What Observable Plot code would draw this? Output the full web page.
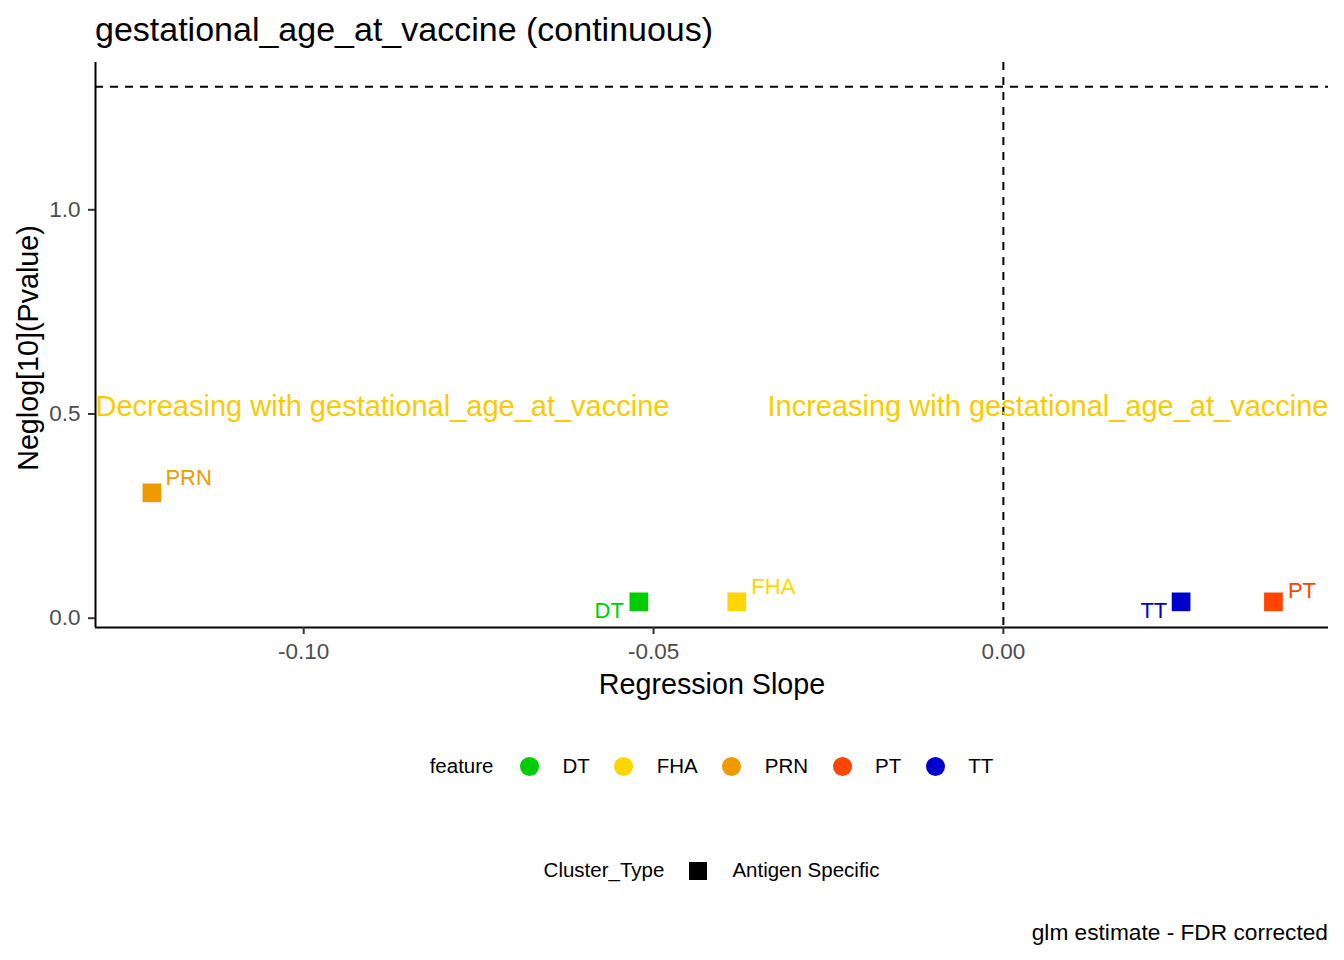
<!DOCTYPE html>
<html>
<head>
<meta charset="utf-8">
<script src="https://cdn.jsdelivr.net/npm/d3@7"></script>
<script src="https://cdn.jsdelivr.net/npm/@observablehq/plot@0.6"></script>
<style>
  html, body { margin: 0; padding: 0; background: #ffffff; }
  body { font-family: "Liberation Sans", Arial, sans-serif; }
  #wrap { position: relative; width: 1344px; height: 960px; overflow: hidden; background: #fff; }
  #chart { position: absolute; left: 0; top: 0; }
  .title { position: absolute; left: 95px; top: 12px; font-size: 34px; line-height: 34px; color: #000; white-space: nowrap; }
  .legend-row { position: absolute; left: 95px; width: 1233px; display: flex; justify-content: center; align-items: center; height: 24px; font-size: 20.5px; line-height: 20.5px; color: #000; white-space: nowrap; }
  .lg-title { margin-right: 26.5px; }
  .lg-key-c { width: 19px; height: 19px; border-radius: 50%; margin-right: 23.5px; }
  .lg-key-s { width: 18px; height: 18px; background: #000; margin-right: 25px; }
  .lg-text { margin-right: 24.5px; }
  .lg-text:last-child { margin-right: 0; }
  .caption { position: absolute; right: 16px; top: 921px; font-size: 22.7px; line-height: 22.7px; color: #000; white-space: nowrap; }
</style>
</head>
<body>
<div id="wrap">
  <div id="chart"></div>
</div>
<script>
// ---- data ----
const features = ["DT", "FHA", "PRN", "PT", "TT"];
const slopes = [-0.0521, -0.0381, -0.1217, 0.0386, 0.0254];
const negLogP = [0.040, 0.040, 0.307, 0.040, 0.040];
const clusterTypes = ["Antigen Specific", "Antigen Specific", "Antigen Specific", "Antigen Specific", "Antigen Specific"];
const featureColors = ["#00CD00", "#FFD700", "#EE9A00", "#FF4500", "#0000CD"];
const clusterTypeLevels = ["Antigen Specific"];
const xTicks = [-0.10, -0.05, 0.00];
const yTicks = [0.0, 0.5, 1.0];
const xDomain = [-0.12976, 0.04647];
const yDomain = [-0.0228, 1.3607];
const pThresholdLine = [1.30103]; // -log10(0.05)
const zeroSlopeLine = [0];
const annotationY = 0.5;
const decreasingText = "Decreasing with gestational_age_at_vaccine";
const increasingText = "Increasing with gestational_age_at_vaccine";
const titleText = "gestational_age_at_vaccine (continuous)";
const xLabelText = "Regression Slope";
const yLabelText = "Neglog[10](Pvalue)";
const captionText = "glm estimate - FDR corrected";
const colorLegendTitle = "feature";
const shapeLegendTitle = "Cluster_Type";

const data = features.map((f, i) => ({
  feature: f, slope: slopes[i], nlp: negLogP[i], cluster: clusterTypes[i]
}));

// ---- label placement (repel-like offsets) ----
const labelPlacement = {
  DT:  {anchor: "end",   dx: -15,   dy: 15.8},
  FHA: {anchor: "start", dx: 14.5,  dy: -8.2},
  PRN: {anchor: "start", dx: 13.5,  dy: -7.5},
  PT:  {anchor: "start", dx: 14.5,  dy: -3.6},
  TT:  {anchor: "end",   dx: -13.8, dy: 16}
};

const annoColor = "#F9CB00";
const fontFamily = "Liberation Sans, Arial, sans-serif";

const plot = Plot.plot({
  width: 1344,
  height: 710,
  marginLeft: 95,
  marginRight: 16,
  marginTop: 62,
  marginBottom: 83,
  style: {fontFamily: fontFamily, background: "#ffffff", overflow: "visible"},
  x: {domain: xDomain},
  y: {domain: yDomain},
  color: {domain: features, range: featureColors},
  marks: [
    // axis lines (theme_classic)
    Plot.ruleX([xDomain[0]], {stroke: "#000", strokeWidth: 2}),
    Plot.ruleY([yDomain[0]], {stroke: "#000", strokeWidth: 2}),
    // reference lines
    Plot.ruleY(pThresholdLine, {stroke: "#000", strokeWidth: 2, strokeDasharray: "8,7"}),
    Plot.ruleX(zeroSlopeLine, {stroke: "#000", strokeWidth: 2, strokeDasharray: "8,7"}),
    // axes
    Plot.axisX(xTicks, {
      tickSize: 7, tickPadding: 9, strokeWidth: 2, stroke: "#333333", fill: "#4D4D4D",
      fontSize: 22.5, tickFormat: d => d.toFixed(2), label: null
    }),
    Plot.axisY(yTicks, {
      tickSize: 7, tickPadding: 8, strokeWidth: 2, stroke: "#333333", fill: "#4D4D4D",
      fontSize: 22.5, tickFormat: d => d.toFixed(1), label: null
    }),
    // axis titles
    Plot.text([xLabelText], {
      frameAnchor: "bottom", dy: 66.3, lineAnchor: "bottom", text: d => d,
      fontSize: 28.7, fill: "#000"
    }),
    Plot.text([yLabelText], {
      frameAnchor: "left", dx: -58, dy: 3, rotate: -90, textAnchor: "middle", lineAnchor: "bottom", text: d => d,
      fontSize: 28.7, fill: "#000"
    }),
    // direction annotations
    Plot.text([{t: decreasingText, y: annotationY}], {
      frameAnchor: "left", y: "y", text: "t", textAnchor: "start", lineAnchor: "bottom",
      dy: 2, fontSize: 29, fill: annoColor
    }),
    Plot.text([{t: increasingText, y: annotationY}], {
      frameAnchor: "right", y: "y", text: "t", textAnchor: "end", lineAnchor: "bottom",
      dy: 2, fontSize: 29, fill: annoColor
    }),
    // points
    Plot.dot(data, {
      x: "slope", y: "nlp", fill: "feature", symbol: "square", r: 10.55, stroke: null
    }),
    // labels
    ...features.map(f => Plot.text(data.filter(d => d.feature === f), {
      x: "slope", y: "nlp", text: "feature", fill: "feature",
      textAnchor: labelPlacement[f].anchor, dx: labelPlacement[f].dx, dy: labelPlacement[f].dy,
      lineAnchor: "bottom", fontSize: 22
    }))
  ]
});

document.getElementById("chart").appendChild(plot);

const wrap = document.getElementById("wrap");

// title
const title = document.createElement("div");
title.className = "title";
title.textContent = titleText;
wrap.appendChild(title);

// colour legend
const row1 = document.createElement("div");
row1.className = "legend-row";
row1.style.top = (766 - 12) + "px";
const t1 = document.createElement("span");
t1.className = "lg-title";
t1.textContent = colorLegendTitle;
row1.appendChild(t1);
features.forEach((f, i) => {
  const k = document.createElement("span");
  k.className = "lg-key-c";
  k.style.background = featureColors[i];
  row1.appendChild(k);
  const s = document.createElement("span");
  s.className = "lg-text";
  s.textContent = f;
  row1.appendChild(s);
});
wrap.appendChild(row1);

// shape legend
const row2 = document.createElement("div");
row2.className = "legend-row";
row2.style.top = (870.5 - 12) + "px";
const t2 = document.createElement("span");
t2.className = "lg-title";
t2.style.marginRight = "25px";
t2.textContent = shapeLegendTitle;
row2.appendChild(t2);
clusterTypeLevels.forEach(c => {
  const k = document.createElement("span");
  k.className = "lg-key-s";
  row2.appendChild(k);
  const s = document.createElement("span");
  s.className = "lg-text";
  s.textContent = c;
  row2.appendChild(s);
});
wrap.appendChild(row2);

// caption
const cap = document.createElement("div");
cap.className = "caption";
cap.textContent = captionText;
wrap.appendChild(cap);
</script>
</body>
</html>
